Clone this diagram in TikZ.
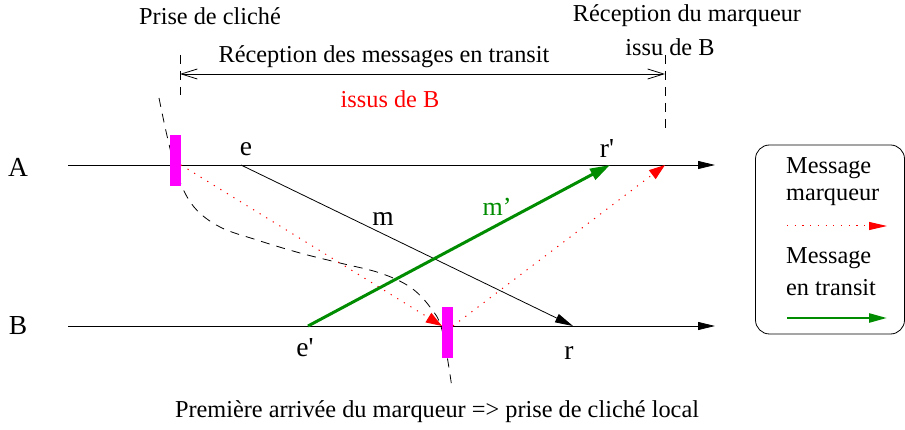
\documentclass[tikz,border=0pt]{standalone}
\usepackage{fontspec}
\setmainfont{Liberation Serif}
\usepackage{tikz}
\usetikzlibrary{arrows.meta,positioning}

\definecolor{snapmag}{RGB}{255,0,255}
\definecolor{transgreen}{RGB}{0,140,0}

\begin{document}
\begin{tikzpicture}[x=1pt,y=-1pt,
        font=\fontsize{24.3}{28}\selectfont,
        proc/.style={-{Triangle[length=17pt,width=8pt]}, line width=0.8pt},
        msg/.style={-{Triangle[length=18pt,width=9pt]}, line width=0.8pt},
        marq/.style={-{Triangle[length=16pt,width=11pt]}, red, line width=1pt, dash pattern=on 1.2pt off 6.5pt},
        transit/.style={-{Triangle[length=20pt,width=12pt]}, transgreen, line width=3pt},
        snapbox/.style={rectangle, fill=snapmag, minimum width=11pt, minimum height=51pt, inner sep=0pt},
        guide/.style={line width=0.8pt, dash pattern=on 9pt off 7pt},
        span/.style={{Straight Barb[length=16pt,width=10pt]}-{Straight Barb[length=16pt,width=10pt]}, line width=0.8pt},
        lbl/.style={inner sep=0pt},
        evt/.style={inner sep=0pt, font=\fontsize{27.5}{30}\selectfont},
    ]
    \useasboundingbox (0,0) rectangle (905,430);

    % Processus A et B
    \coordinate (Astart) at (68,165);
    \coordinate (Aend)   at (715,165);
    \coordinate (Bstart) at (68,326);
    \coordinate (Bend)   at (715,326);
    \draw[proc] (Astart) -- (Aend);
    \draw[proc] (Bstart) -- (Bend);
    \node[evt] (labA) at (18,167) {A};
    \node[evt] (labB) at (18,326) {B};

    % Evenements
    \coordinate (e)  at (241,165);
    \coordinate (r)  at (573,326);
    \coordinate (ep) at (308,326);
    \coordinate (rp) at (610,165);
    \coordinate (mA)  at (181,165);
    \coordinate (mB)  at (442,326);
    \coordinate (mB2) at (453,326);
    \coordinate (mR)  at (665,165);

    % Ligne de coupure
    \draw[guide] plot[smooth, tension=0.6] coordinates {(159,98) (168,140) (178,177) (194,207) (220,227) (257,240) (300,253) (340,263) (380,273) (410,287) (430,307) (442,330) (452,388)};

    \node[snapbox] (snapA) at (175.5,160.5) {};
    \node[snapbox] (snapB) at (447.5,332.5) {};

    % Messages
    \draw[msg] (e) -- (r);
    \draw[marq] (mA) -- (mB);
    \draw[marq] (mB2) -- (mR);
    \draw[transit] (ep) -- (rp);

    \node[evt] (labe)  at (246,149) {e};
    \node[evt] (labrp) at (607,148) {r\textquotesingle};
    \node[evt] (labm)  at (383,219) {m};
    \node[evt] (labep) at (305,348) {e\textquotesingle};
    \node[evt] (labr)  at (569,353) {r};
    \node[evt, font=\fontsize{26}{30}\selectfont, text=transgreen] (labmp) at (497,207) {m’};

    % Intervalle de reception
    \coordinate (gL1) at (180,55);
    \coordinate (gL2) at (180,95);
    \coordinate (gR1) at (665,55);
    \coordinate (gR2) at (665,128);
    \draw[guide] (gL1) -- (gL2);
    \draw[guide] (gR1) -- (gR2);
    \coordinate (sL) at (180,74);
    \coordinate (sR) at (665,74);
    \draw[span] (sL) -- (sR);

    \node[lbl] (prise)   at (210,16) {Prise de cliché};
    \node[lbl] (recmarq) at (687,16) {Réception du marqueur};
    \node[lbl] (issuB)   at (670,47) {issu de B};
    \node[lbl] (recmsg)  at (384,57) {Réception des messages en transit};
    \node[lbl, text=red] (issusB) at (390,99) {issus de B};
    \node[lbl] (premiere) at (437,412) {Première arrivée du marqueur => prise de cliché local};

    % Legende
    \node[draw, line width=0.8pt, rounded corners=14pt, minimum width=149pt, minimum height=189pt] (legend) at (830,239.5) {};
    \node[lbl, anchor=west] (lgm1) at (786,168) {Message};
    \node[lbl, anchor=west] (lgm2) at (786,197) {marqueur};
    \node[lbl, anchor=west] (lgt1) at (786,258) {Message};
    \node[lbl, anchor=west] (lgt2) at (786,288) {en transit};
    \coordinate (lgr1) at (787,226);
    \coordinate (lgr2) at (887,226);
    \coordinate (lgg1) at (787,318);
    \coordinate (lgg2) at (887,318);
    \draw[marq, -{Triangle[length=18pt,width=8pt]}] (lgr1) -- (lgr2);
    \draw[transit, line width=2.5pt, -{Triangle[length=18pt,width=9pt]}] (lgg1) -- (lgg2);
\end{tikzpicture}
\end{document}
